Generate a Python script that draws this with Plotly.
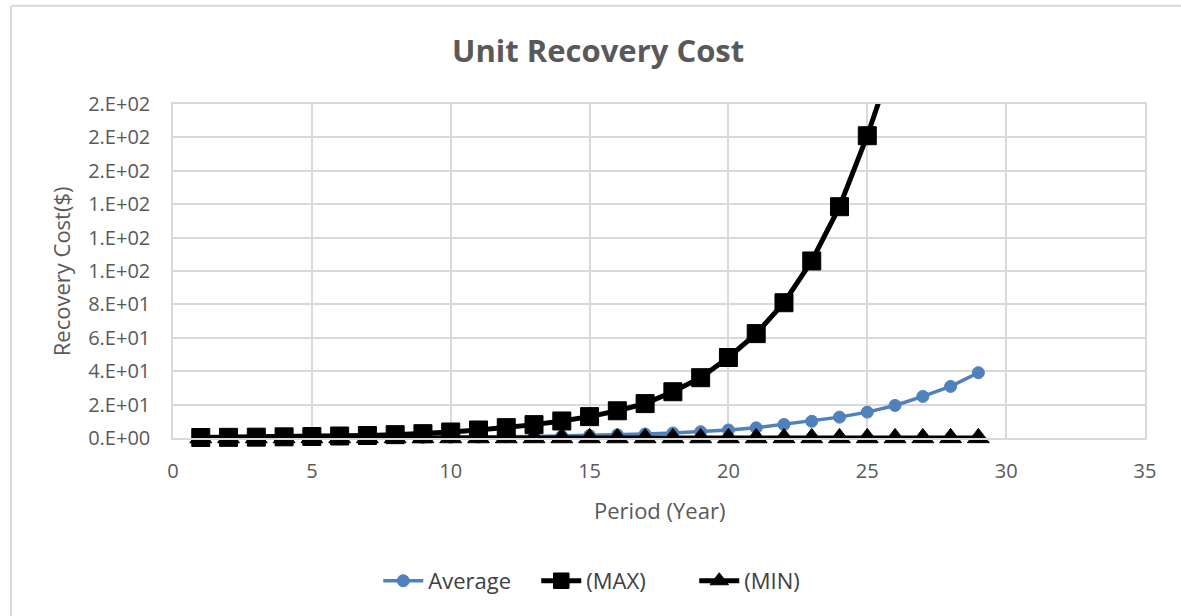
import plotly.graph_objects as go

period = list(range(1, 30))
average = [0.06, 0.08, 0.10, 0.12, 0.15, 0.19, 0.24, 0.30, 0.38, 0.48,
           0.60, 0.75, 0.95, 1.2, 1.5, 1.9, 2.4, 3.0, 3.8, 4.8,
           6.1, 8.1, 10.0, 12.5, 15.5, 19.5, 24.9, 30.9, 39.1]
max_cost = [0.3, 0.4, 0.5, 0.7, 0.9, 1.2, 1.5, 2.0, 2.6, 3.6,
            4.8, 6.2, 8.0, 10.2, 12.8, 16.3, 20.6, 27.7, 36.1, 48.2,
            62.5, 81.0, 106.0, 138.5, 181.0, 230.0, 300.0, 390.0, 505.0]
min_cost = [0.01, 0.01, 0.01, 0.01, 0.01, 0.01, 0.01, 0.01, 0.01, 0.01,
            0.01, 0.01, 0.01, 0.01, 0.01, 0.02, 0.02, 0.02, 0.02, 0.02,
            0.02, 0.03, 0.03, 0.03, 0.04, 0.04, 0.05, 0.05, 0.06]
series_names = ["Average", "(MAX)", "(MIN)"]
y_tickvals = [0, 20, 40, 60, 80, 100, 120, 140, 160, 180, 200]
y_ticktext = ["0.E+00", "2.E+01", "4.E+01", "6.E+01", "8.E+01", "1.E+02",
              "1.E+02", "1.E+02", "2.E+02", "2.E+02", "2.E+02"]
x_tickvals = [0, 5, 10, 15, 20, 25, 30, 35]

Y_MAX = 200
FONT = "Open Sans"
GREY = "#595959"
GRID = "#D9D9D9"

fig = go.Figure()
fig.add_trace(go.Scatter(
    x=period, y=average, name=series_names[0], mode="lines+markers",
    line=dict(color="#4F81BD", width=3.5),
    marker=dict(symbol="circle", size=12, color="#4F81BD", opacity=1,
                line=dict(color="#4F81BD", width=1)),
    cliponaxis=False))
fig.add_trace(go.Scatter(
    x=period, y=max_cost, name=series_names[1], mode="lines+markers",
    line=dict(color="black", width=5),
    marker=dict(symbol="square", size=[18 if v <= Y_MAX else 0 for v in max_cost],
                color="black", opacity=1, line=dict(color="black", width=1)),
    cliponaxis=False))
fig.add_trace(go.Scatter(
    x=period, y=min_cost, name=series_names[2], mode="lines+markers",
    line=dict(color="black", width=5),
    marker=dict(symbol="triangle-up", size=19, color="black", opacity=1,
                line=dict(color="black", width=1)),
    cliponaxis=False))

fig.update_layout(
    width=1181, height=616,
    margin=dict(l=173, r=36, t=104, b=178, pad=0),
    paper_bgcolor="white", plot_bgcolor="white",
    font=dict(family=FONT, color=GREY, size=20),
    showlegend=True,
    legend=dict(orientation="h", x=0.455, xanchor="center", y=-0.428,
                yanchor="middle", font=dict(family=FONT, size=22, color="#404040"),
                bgcolor="rgba(0,0,0,0)", itemwidth=40, tracegroupgap=0,
                entrywidth=103),
)
fig.update_xaxes(
    range=[0, 35], tickvals=x_tickvals, showgrid=True, gridcolor=GRID, gridwidth=1.5,
    showline=True, linecolor=GRID, linewidth=1.5, mirror=True, zeroline=False,
    ticks="", ticklabelstandoff=14, tickfont=dict(family=FONT, size=20, color=GREY))
fig.update_yaxes(
    range=[0, Y_MAX], tickvals=y_tickvals, ticktext=y_ticktext, showgrid=True,
    gridcolor=GRID, gridwidth=1.5, showline=True, linecolor=GRID, linewidth=1.5,
    mirror=True, zeroline=False, ticks="", ticklabelstandoff=17,
    tickfont=dict(family=FONT, size=20, color=GREY))

# annotations: title & axis titles
fig.add_annotation(text="<b>Unit Recovery Cost</b>", xref="paper", yref="paper",
                   x=(598 - 173) / 972, y=(437.5 - 50) / 333.5, showarrow=False,
                   xanchor="center", yanchor="middle",
                   font=dict(family=FONT, size=31, color=GREY))
fig.add_annotation(text="Recovery Cost($)", xref="paper", yref="paper",
                   x=(61 - 173) / 972, y=(437.5 - 271) / 333.5, showarrow=False,
                   textangle=-90, xanchor="center", yanchor="middle",
                   font=dict(family=FONT, size=22, color=GREY))
fig.add_annotation(text="Period (Year)", xref="paper", yref="paper",
                   x=(659 - 173) / 972, y=(437.5 - 509) / 333.5, showarrow=False,
                   xanchor="center", yanchor="middle",
                   font=dict(family=FONT, size=22, color=GREY))

# chart frame
fx0 = (11 - 173) / 972
fx1 = (1185 - 173) / 972
fy0 = (437.5 - 620) / 333.5
fy1 = (437.5 - 6) / 333.5
fig.add_shape(type="line", xref="paper", yref="paper", x0=fx0, x1=fx0, y0=fy0, y1=fy1,
              line=dict(color=GRID, width=2))
fig.add_shape(type="line", xref="paper", yref="paper", x0=fx0, x1=fx1, y0=fy1, y1=fy1,
              line=dict(color=GRID, width=2))

fig.write_html("out.html", config={"displayModeBar": False},
               post_script="document.body.style.margin='0';document.body.style.overflow='hidden';")
